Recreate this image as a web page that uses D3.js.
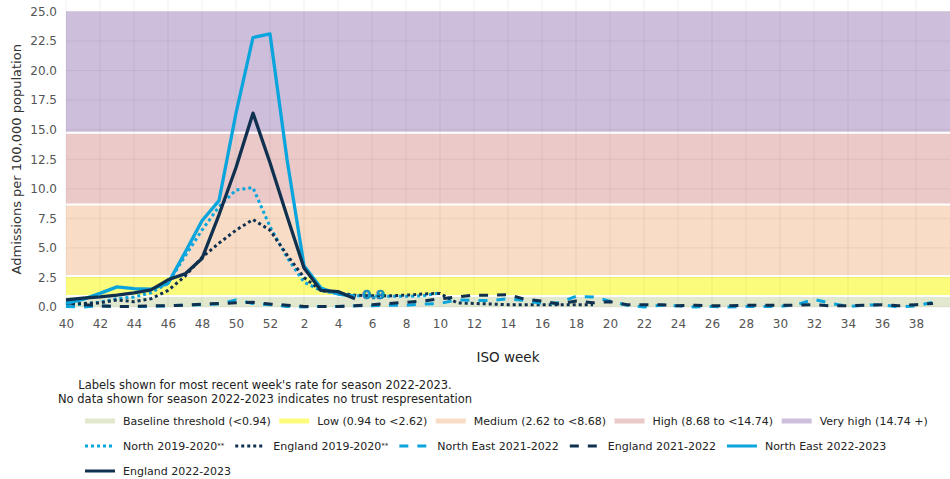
<!DOCTYPE html>
<html>
<head>
<meta charset="utf-8">
<script src="https://cdn.jsdelivr.net/npm/d3@7"></script>
<style>
  body { margin: 0; background: #fff; }
  text { font-family: "DejaVu Sans", Verdana, sans-serif; }
</style>
</head>
<body>
<svg id="chart"></svg>
<script>
// ISO weeks of a season, week 40 through week 39
var weeks = [40, 41, 42, 43, 44, 45, 46, 47, 48, 49, 50, 51, 52,
    1, 2, 3, 4, 5, 6, 7, 8, 9, 10, 11, 12, 13, 14, 15, 16, 17, 18, 19, 20,
    21, 22, 23, 24, 25, 26, 27, 28, 29, 30, 31, 32, 33, 34, 35, 36, 37, 38, 39];
var yTicks = [0, 2.5, 5, 7.5, 10, 12.5, 15, 17.5, 20, 22.5, 25];

// threshold bands
var bandNames = ["Baseline threshold (<0.94)", "Low (0.94 to <2.62)", "Medium (2.62 to <8.68)",
    "High (8.68 to <14.74)", "Very high (14.74 +)"];
var bandLow = [0, 0.94, 2.62, 8.68, 14.74];
var bandHigh = [0.94, 2.62, 8.68, 14.74, 25];
var bandColors = ["#e1e8cd", "#fcfc7c", "#f9dcc5", "#ebc9c9", "#cdbedb"];

// rates per 100,000 by week (index 0 = week 40)
var north1920 = [0.1, 0.25, 0.4, 0.7, 0.85, 1.2, 2.0, 4.3, 6.5, 8.5, 9.9, 10.1, 6.8,
    4.2, 2.1, 1.4, 1.1, 0.95, 0.95, 0.9, 0.9, 0.95, 1.2];
var england1920 = [0.2, 0.3, 0.35, 0.6, 0.45, 0.7, 1.4, 2.6, 4.2, 5.4, 6.5, 7.4, 6.5,
    4.4, 2.5, 1.4, 1.2, 1.0, 0.95, 0.95, 1.0, 1.1, 1.15, 0.35, 0.3, 0.25, 0.2, 0.2,
    0.2, 0.2, 0.2, 0.2];
var northEast2122 = [0.05, 0.0, 0.1, 0.05, 0.05, 0.05, 0.1, 0.15, 0.2, 0.25, 0.6, 0.3, 0.2,
    0.05, 0.0, 0.05, 0.05, 0.1, 0.1, 0.15, 0.15, 0.25, 0.3, 0.6, 0.55, 0.55, 0.7, 0.55,
    0.3, 0.35, 0.9, 0.85, 0.5, 0.15, 0.0, 0.15, 0.1, 0.0, 0.05, 0.0, 0.05, 0.05, 0.05,
    0.2, 0.65, 0.3, 0.05, 0.15, 0.2, 0.0, 0.1, 0.4];
var england2122 = [0.35, 0.2, 0.1, 0.05, 0.05, 0.1, 0.1, 0.15, 0.25, 0.3, 0.35, 0.4, 0.25,
    0.15, 0.05, 0.05, 0.05, 0.1, 0.2, 0.3, 0.4, 0.5, 0.7, 0.85, 1.0, 1.0, 1.05, 0.65,
    0.5, 0.25, 0.5, 0.35, 0.45, 0.2, 0.2, 0.2, 0.1, 0.15, 0.1, 0.1, 0.15, 0.15, 0.15,
    0.15, 0.2, 0.1, 0.1, 0.15, 0.2, 0.1, 0.2, 0.3];
var northEast2223 = [0.3, 0.65, 1.15, 1.7, 1.55, 1.5, 2.0, 4.6, 7.3, 9.0, 16.4, 22.8, 23.1,
    12.5, 3.5, 1.6, 1.1, 0.9];
var england2223 = [0.6, 0.75, 0.85, 1.0, 1.2, 1.45, 2.3, 2.8, 4.1, 7.8, 11.8, 16.4, 12.2,
    7.7, 3.3, 1.4, 1.3, 0.7];

var seriesNames = ["North 2019-2020", "England 2019-2020", "North East 2021-2022",
    "England 2021-2022", "North East 2022-2023", "England 2022-2023"];
var seriesValues = [north1920, england1920, northEast2122, england2122, northEast2223, england2223];
var seriesNotes = ["**", "**", "", "", "", ""];
var seriesColors = ["#0aa5dd", "#10304f", "#0aa5dd", "#10304f", "#0aa5dd", "#10304f"];
var seriesDash = ["3,3", "3,3", "9,9", "9,9", null, null];

var width = 950,
    height = 479,
    margin = {left: 66, right: 0, top: 11.5, bottom: 172};

var svg = d3.select("#chart")
    .attr("width", width)
    .attr("height", height);

var x = d3.scaleLinear()
    .domain([0, weeks.length])
    .range([margin.left, width - margin.right]);

var y = d3.scaleLinear()
    .domain([0, 25])
    .range([height - margin.bottom, margin.top]);

// bands
svg.append("g").selectAll("rect")
    .data(bandNames)
    .enter().append("rect")
    .attr("x", x(0))
    .attr("width", x(weeks.length) - x(0))
    .attr("y", function (d, i) { return y(bandHigh[i]); })
    .attr("height", function (d, i) { return y(bandLow[i]) - y(bandHigh[i]); })
    .style("fill", function (d, i) { return bandColors[i]; });

svg.append("g").selectAll("line")
    .data(bandHigh.slice(0, 4))
    .enter().append("line")
    .attr("x1", x(0)).attr("x2", x(weeks.length))
    .attr("y1", function (d) { return y(d); })
    .attr("y2", function (d) { return y(d); })
    .style("stroke", "#fff")
    .style("stroke-width", 2);

// grid
var tickIdx = d3.range(0, weeks.length, 2);
var grid = svg.append("g").style("stroke", "#000").style("stroke-opacity", 0.06);
grid.selectAll(".vg")
    .data(tickIdx)
    .enter().append("line")
    .attr("x1", function (d) { return x(d); })
    .attr("x2", function (d) { return x(d); })
    .attr("y1", 0)
    .attr("y2", y(0));
grid.selectAll(".hg")
    .data(yTicks)
    .enter().append("line")
    .attr("x1", x(0))
    .attr("x2", x(weeks.length))
    .attr("y1", function (d) { return y(d); })
    .attr("y2", function (d) { return y(d); });

// axes
var xAxis = svg.append("g")
    .attr("transform", "translate(0," + (y(0) + 3) + ")")
    .call(d3.axisBottom(x).tickValues(tickIdx)
        .tickFormat(function (i) { return weeks[i]; })
        .tickSize(0).tickPadding(9));
var yAxis = svg.append("g")
    .attr("transform", "translate(" + (x(0) - 9) + ",0)")
    .call(d3.axisLeft(y).tickValues(yTicks)
        .tickFormat(d3.format(".1f"))
        .tickSize(0).tickPadding(0));
[xAxis, yAxis].forEach(function (a) {
    a.select(".domain").remove();
    a.selectAll("text")
        .style("font-family", "'DejaVu Sans', Verdana, sans-serif")
        .style("font-size", "12px")
        .style("fill", "#555");
});

svg.append("text")
    .attr("transform", "translate(21," + ((y(0) + y(25)) / 2) + ")rotate(-90)")
    .attr("text-anchor", "middle")
    .style("font-size", "13px")
    .style("fill", "#333")
    .text("Admissions per 100,000 population");

svg.append("text")
    .attr("x", (x(0) + x(weeks.length)) / 2)
    .attr("y", 362)
    .attr("text-anchor", "middle")
    .style("font-size", "13.5px")
    .style("fill", "#222")
    .text("ISO week");

// lines
var line = d3.line()
    .defined(function (d) { return d != null; })
    .x(function (d, i) { return x(i); })
    .y(function (d) { return y(d); });

svg.append("g").selectAll("path")
    .data(seriesValues)
    .enter().append("path")
    .attr("d", line)
    .style("fill", "none")
    .style("stroke", function (d, i) { return seriesColors[i]; })
    .style("stroke-width", function (d, i) { return seriesDash[i] ? 3 : 3.3; })
    .style("stroke-linejoin", "round")
    .style("stroke-dasharray", function (d, i) { return seriesDash[i]; });

// label for most recent week (North East 2022-2023)
var lastIdx = northEast2223.length - 1;
svg.append("text")
    .attr("x", x(lastIdx) + 7)
    .attr("y", y(northEast2223[lastIdx]) - 2)
    .attr("dy", "0.35em")
    .style("font-size", "13px")
    .style("font-weight", "bold")
    .style("fill", "#0aa5dd")
    .style("stroke", "#1d6f98")
    .style("stroke-width", 0.6)
    .text(d3.format(".1f")(northEast2223[lastIdx]));

// notes
var notes = ["Labels shown for most recent week's rate for season 2022-2023.",
    "No data shown for season 2022-2023 indicates no trust respresentation"];
svg.append("g").selectAll("text")
    .data(notes)
    .enter().append("text")
    .attr("x", 265)
    .attr("y", function (d, i) { return 389 + i * 13.5; })
    .attr("text-anchor", "middle")
    .style("font-size", "11.5px")
    .style("fill", "#222")
    .text(function (d) { return d; });

// legend
var legendItems = bandNames.map(function (n, i) {
    return {name: n, note: "", kind: "band", color: bandColors[i], row: 0};
}).concat(seriesNames.map(function (n, i) {
    return {name: n, note: seriesNotes[i], kind: "line", color: seriesColors[i],
        dash: seriesDash[i], row: i < 5 ? 1 : 2};
}));

var legend = svg.append("g");
var lx = 85, lrow = 0;
legendItems.forEach(function (item) {
    if (item.row != lrow) { lrow = item.row; lx = 85; }
    var ly = 421 + lrow * 25;
    var g = legend.append("g").attr("transform", "translate(" + lx + "," + ly + ")");
    g.append("line")
        .attr("x1", 0).attr("x2", 30)
        .style("stroke", item.color)
        .style("stroke-width", item.kind == "band" ? 5 : 3)
        .style("stroke-dasharray", item.dash || null);
    var t = g.append("text")
        .attr("x", 38)
        .attr("dy", "0.35em")
        .style("font-size", "11px")
        .style("fill", "#222")
        .text(item.name);
    if (item.note) {
        t.append("tspan").attr("dy", "-0.3em").style("font-size", "7px").text(item.note);
    }
    lx += 38 + t.node().getComputedTextLength() + (item.kind == "band" ? 8.5 : 11);
});
</script>
</body>
</html>
